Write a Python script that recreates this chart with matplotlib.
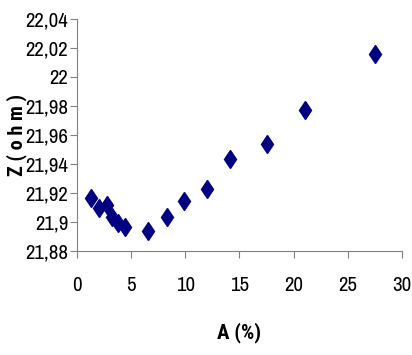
import matplotlib
matplotlib.use("Agg")
import matplotlib.pyplot as plt
from matplotlib.ticker import FuncFormatter, MultipleLocator
from matplotlib import font_manager

# data
a_pct = [1.27, 2.0, 2.75, 3.2, 3.77, 4.4, 6.55, 8.3, 9.9, 12.0, 14.1, 17.5, 21.1, 27.5]
z_ohm = [21.9166, 21.9097, 21.9117, 21.9034, 21.8993, 21.8966, 21.8938,
         21.9034, 21.9145, 21.9228, 21.9434, 21.9538, 21.9772, 22.0159]

names = {f.name for f in font_manager.fontManager.ttflist}


def pick(*cands):
    for c in cands:
        if c in names:
            return c
    return "Liberation Sans"


tick_font = pick("Archivo Narrow", "Liberation Sans Narrow", "Roboto Condensed")
label_font = pick("Roboto Condensed", "Archivo Narrow", "Asap Condensed")
plt.rcParams["font.family"] = [tick_font, "DejaVu Sans"]

fig = plt.figure(figsize=(4.12, 3.55), dpi=100)
ax = fig.add_axes([0.1876, 0.293, 0.7874, 0.6535])

ax.plot(a_pct, z_ohm, linestyle="none", marker="d", markersize=9.5,
        color="#000080", markeredgecolor="#000080")

ax.set_xlim(0, 30)
ax.set_ylim(21.88, 22.04)
ax.xaxis.set_major_locator(MultipleLocator(5))
ax.yaxis.set_major_locator(MultipleLocator(0.02))


def comma_fmt(v, pos):
    s = f"{v:.2f}".rstrip("0").rstrip(".")
    return s.replace(".", ",")


ax.yaxis.set_major_formatter(FuncFormatter(comma_fmt))
ax.xaxis.set_major_formatter(FuncFormatter(lambda v, p: f"{v:g}"))

for side in ["top", "right"]:
    ax.spines[side].set_visible(False)
for side in ["left", "bottom"]:
    ax.spines[side].set_color("#808080")
ax.tick_params(direction="out", length=5, color="#808080", labelsize=15,
               pad=1.5)
ax.tick_params(axis="x", pad=13)

ax.set_xlabel("A (%)", fontsize=15, fontweight="bold", family=[label_font, "DejaVu Sans"],
              labelpad=20)
ax.set_ylabel("Z ( o h m )", fontsize=14.5, fontweight="bold", family=[label_font, "DejaVu Sans"],
              labelpad=-1)

fig.savefig("out.png", dpi=100)
